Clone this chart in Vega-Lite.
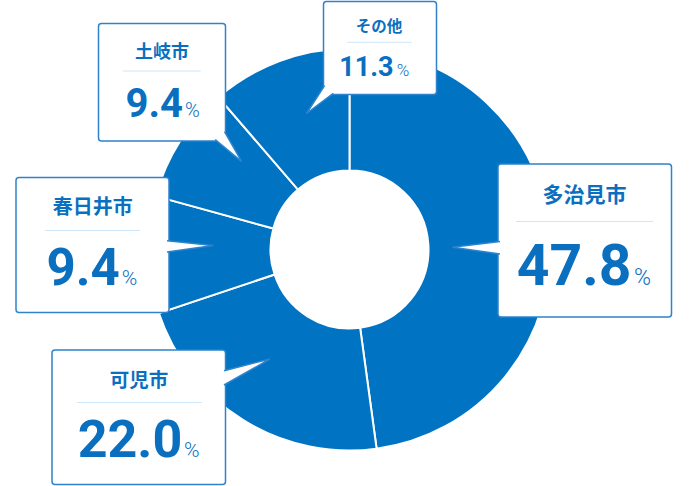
{
  "$schema": "https://vega.github.io/schema/vega-lite/v6.json",
  "width": 699,
  "height": 473,
  "autosize": {"type": "none"},
  "padding": {"left": 0, "top": 13, "right": 1, "bottom": 0},
  "background": "white",
  "view": {"stroke": null},
  "data": {
    "values": [
      {"name": "多治見市", "pct": 47.8, "bx1": 498, "bx2": 671.5, "by1": 164, "by2": 317, "tx": 452.5, "ty": 247.3, "nx": 584.5, "ny": 196, "rx1": 516, "rx2": 653, "ry": 221.5, "vx": 631.5, "vy": 285, "px": 634},
      {"name": "可児市", "pct": 22.0, "bx1": 52, "bx2": 225.5, "by1": 350, "by2": 484.5, "tx": 270, "ty": 359, "nx": 139, "ny": 381, "rx1": 77, "rx2": 202, "ry": 402.5, "vx": 182.3, "vy": 457.3, "px": 184},
      {"name": "春日井市", "pct": 9.4, "bx1": 16, "bx2": 169, "by1": 177.5, "by2": 312.5, "tx": 213.3, "ty": 245.5, "nx": 92.7, "ny": 208.3, "rx1": 45, "rx2": 140, "ry": 230.5, "vx": 119.7, "vy": 285, "px": 121.7},
      {"name": "土岐市", "pct": 9.4, "bx1": 98.5, "bx2": 225.5, "by1": 23.5, "by2": 141, "tx": 241.7, "ty": 161.7, "nx": 162, "ny": 53, "rx1": 122.7, "rx2": 200.7, "ry": 71, "vx": 183, "vy": 116.7, "px": 185},
      {"name": "その他", "pct": 11.3, "bx1": 323.5, "bx2": 436.5, "by1": 1.5, "by2": 94.5, "tx": 306.5, "ty": 113.5, "nx": 379, "ny": 27, "rx1": 347.3, "rx2": 411.7, "ry": 42.3, "vx": 393.5, "vy": 76, "px": 396.7}
    ]
  },
  "layer": [
    {
      "mark": {"type": "arc", "outerRadius": 201, "innerRadius": 79, "fill": "#0073c2", "stroke": "white", "strokeWidth": 2},
      "encoding": {
        "theta": {"field": "pct", "type": "quantitative", "stack": true}
      }
    },
    {
      "mark": {"type": "rect", "fill": "white", "stroke": "#2f83cc", "strokeWidth": 1.5, "cornerRadius": 3},
      "encoding": {
        "x": {"field": "bx1", "type": "quantitative", "scale": {"domain": [0, 699], "nice": false, "zero": false}, "axis": null},
        "x2": {"field": "bx2"},
        "y": {"field": "by1", "type": "quantitative", "scale": {"domain": [13, 486], "nice": false, "zero": false, "reverse": true}, "axis": null},
        "y2": {"field": "by2"}
      }
    },
    {
      "mark": {"type": "point", "filled": true, "fill": "white", "stroke": "#2f83cc", "strokeWidth": 1.5, "opacity": 1, "size": 4},
      "encoding": {
        "x": {"field": "tx", "type": "quantitative"},
        "y": {"field": "ty", "type": "quantitative"},
        "shape": {
          "field": "name", "type": "nominal", "legend": null,
          "scale": {
            "domain": ["多治見市", "可児市", "春日井市", "土岐市", "その他"],
            "range": [
              "M 47.5 -5.8 L 0 0 L 47.5 6.7",
              "M -46 11.7 L 0 0 L -46 26",
              "M -46.3 -4.8 L 0 0 L -46.3 6.5",
              "M -26.5 -22 L 0 0 L -17.2 -30.1",
              "M 18.1 -27.9 L 0 0 L 26.8 -20.2"
            ]
          }
        }
      }
    },
    {
      "mark": {"type": "rule", "stroke": "#cfe5f8", "strokeWidth": 1},
      "encoding": {
        "x": {"field": "rx1", "type": "quantitative"},
        "x2": {"field": "rx2"},
        "y": {"field": "ry", "type": "quantitative"}
      }
    },
    {
      "mark": {"type": "text", "font": "Noto Sans CJK JP", "fontWeight": "bold", "fill": "#0b6fbf", "align": "center", "baseline": "middle"},
      "encoding": {
        "x": {"field": "nx", "type": "quantitative"},
        "y": {"field": "ny", "type": "quantitative"},
        "text": {"field": "name"},
        "size": {"field": "name", "type": "nominal", "legend": null, "scale": {"type": "ordinal", "domain": ["多治見市", "可児市", "春日井市", "土岐市", "その他"], "range": [21, 19.5, 20, 18, 15.5]}}
      }
    },
    {
      "mark": {"type": "text", "font": "Roboto", "fontWeight": "bold", "fill": "#0b6fbf", "align": "right", "baseline": "alphabetic"},
      "encoding": {
        "x": {"field": "vx", "type": "quantitative"},
        "y": {"field": "vy", "type": "quantitative"},
        "text": {"field": "pct", "type": "quantitative", "format": ".1f"},
        "size": {"field": "name", "type": "nominal", "legend": null, "scale": {"type": "ordinal", "domain": ["多治見市", "可児市", "春日井市", "土岐市", "その他"], "range": [57, 52, 51, 40, 27]}}
      }
    },
    {
      "mark": {"type": "text", "font": "Roboto", "fontWeight": 300, "fill": "#0b6fbf", "align": "left", "baseline": "alphabetic", "text": "%"},
      "encoding": {
        "x": {"field": "px", "type": "quantitative"},
        "y": {"field": "vy", "type": "quantitative"},
        "size": {"field": "name", "type": "nominal", "legend": null, "scale": {"type": "ordinal", "domain": ["多治見市", "可児市", "春日井市", "土岐市", "その他"], "range": [23, 21, 21, 20, 17]}}
      }
    }
  ],
  "resolve": {"scale": {"size": "independent"}}
}
